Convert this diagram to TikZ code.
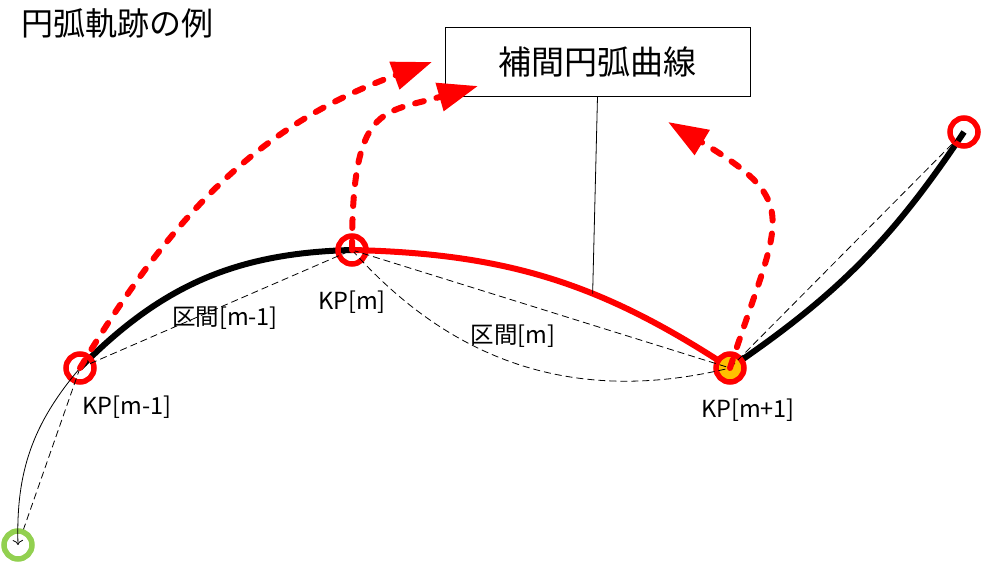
\documentclass[tikz,border=0pt]{standalone}
\usepackage{fontspec}
\setmainfont{Noto Sans CJK JP}
\usetikzlibrary{arrows.meta}
\definecolor{kpfill}{RGB}{255,192,0}
\definecolor{kpgreen}{RGB}{146,208,80}

\begin{document}
\begin{tikzpicture}[x=1pt,y=1pt,
  kp/.style={circle,draw=red,line width=5.5pt,minimum size=28pt,inner sep=0pt},
  track/.style={line width=6pt},
  chord/.style={line width=0.8pt,dash pattern=on 7pt off 4pt},
  jump/.style={red,line width=6pt,line cap=round,dash pattern=on 9pt off 13pt,-{Triangle[length=40pt,width=28pt]}},
  lbl/.style={inner sep=0pt,font=\fontsize{23.5}{23.5}\selectfont}]
\useasboundingbox (0,0) rectangle (985,564);
% key points
\coordinate (p0) at (18,19);
\coordinate (p1) at (80,196);
\coordinate (p2) at (352,314);
\coordinate (p3) at (730,196);
\coordinate (p4) at (964,432);
% arcs of the track
\draw[track] (p1) to[bend left=22] (p2);
\draw[track,red] (p2) to[bend left=16] coordinate[pos=0.62] (hit) (p3);
\draw[track] (p3) to[bend right=11] (p4);
% key point circles
\node[kp] (kpA) at (p1) {};
\node[kp] (kpB) at (p2) {};
\node[kp,fill=kpfill] (kpC) at (p3) {};
\node[kp] (kpD) at (p4) {};
\node[kp,draw=kpgreen] (kpG) at (p0) {};
% chords
\draw[chord] (p1) -- (p2);
\draw[chord] (p2) -- (p3);
\draw[chord] (p2) to[bend right=31] (p3);
\draw[chord] (p3) -- (p4);
\draw[chord] (p1) -- (kpG);
\draw[line width=0.8pt,-{To[length=5pt]}] (p1) to[bend right=21] (p0);
% labels
\node[lbl] (lA) at (127,157) {KP[m-1]};
\node[lbl] (lB) at (352,262) {KP[m]};
\node[lbl] (lC) at (748,154) {KP[m+1]};
\node[lbl] (sA) at (225,246) {区間[m-1]};
\node[lbl] (sB) at (513,228) {区間[m]};
\node[anchor=west,inner sep=0pt,font=\fontsize{32}{32}\selectfont] (title) at (21,541) {円弧軌跡の例};
% callout box
\node[draw,line width=0.8pt,minimum width=305pt,minimum height=69pt,font=\fontsize{33}{33}\selectfont] (box) at (597.5,502.5) {補間円弧曲線};
\draw[line width=0.8pt] (box.south) -- (hit);
% red arrows
\coordinate (t1) at (432,502);
\coordinate (t2) at (478,478);
\coordinate (t3) at (668,442);
\draw[jump] (p1) .. controls +(59:182) and +(200:182) .. (t1);
\draw[jump] (p2) .. controls +(90:146) and +(196:100) .. (t2);
\draw[jump] (p3) .. controls +(72:159) and +(-31:159) .. (t3);
\end{tikzpicture}
\end{document}
